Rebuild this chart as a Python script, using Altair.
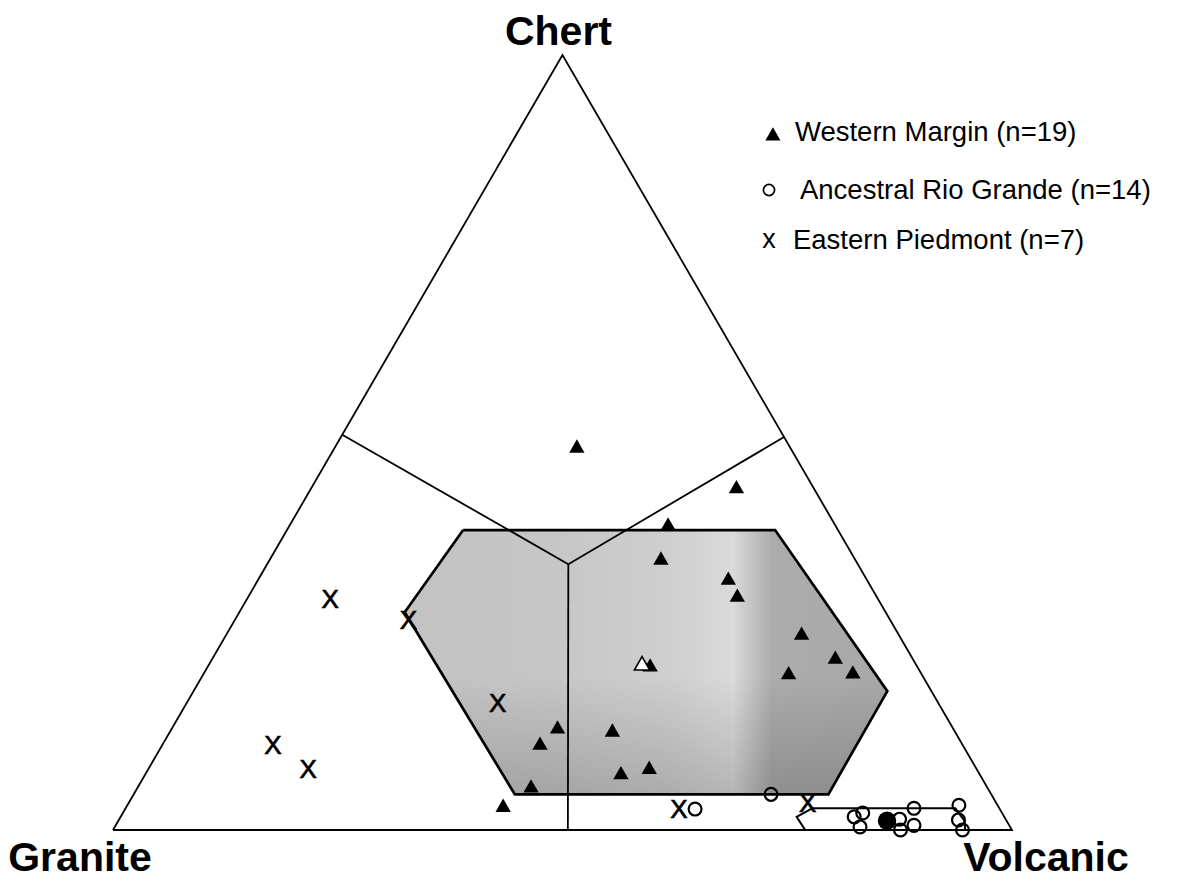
import altair as alt
import numpy as np
import pandas as pd

FONT = "Liberation Sans"

# ---------------- data: compositions in percent (Chert, Granite, Volcanic) ----------------
# Western Margin (triangles)
wm_chert = [49.5, 44.3, 39.5, 35.1, 32.5, 30.3, 25.4, 22.3, 20.3, 20.4, 21.3, 13.3, 11.2, 12.9, 7.4, 8.1, 5.7, 3.2]
wm_granite = [23.6, 8.5, 18.5, 21.5, 15.3, 15.4, 10.7, 8.5, 14.7, 7.5, 29.6, 43.9, 46.9, 38.0, 39.8, 36.3, 50.7, 55.0]
wm_volcanic = [26.8, 47.2, 42.0, 43.4, 52.2, 54.3, 63.9, 69.2, 65.0, 72.1, 49.1, 42.8, 41.9, 49.1, 52.8, 55.6, 43.7, 41.8]
wm_mean = [21.5, 30.4, 48.1]

# Ancestral Rio Grande (open circles)
arg_chert = [2.7, 4.6, 1.7, 2.2, 0.4, 1.4, 0.0, 2.8, 0.6, 3.2, 1.3, 0.0]
arg_granite = [33.9, 24.5, 16.7, 15.5, 16.7, 11.8, 12.4, 9.5, 10.6, 4.3, 5.3, 5.5]
arg_volcanic = [63.4, 70.9, 81.6, 82.3, 82.9, 86.8, 87.6, 87.7, 88.8, 92.5, 93.4, 94.5]
arg_mean = [1.2, 13.3, 85.5]

# Eastern Piedmont (x)
ep_chert = [29.9, 27.1, 16.4, 11.0, 8.0, 2.8, 3.5]
ep_granite = [60.9, 53.6, 49.0, 76.7, 74.3, 35.6, 21.0]
ep_volcanic = [9.2, 19.3, 34.6, 12.3, 17.7, 61.5, 75.6]

# Western Margin field (shaded hexagon), clockwise from top-left
wmf_chert = [38.7, 38.7, 17.9, 4.6, 4.6, 28.1]
wmf_granite = [41.7, 7.0, 4.9, 18.1, 53.0, 53.5]
wmf_volcanic = [19.6, 54.3, 77.1, 77.2, 42.4, 18.4]

# Ancestral Rio Grande field (small outline)
argf_chert = [2.8, 1.7, 0.0, 0.0, 1.2, 2.8]
argf_granite = [20.8, 23.1, 23.0, 5.2, 4.7, 4.9]
argf_volcanic = [76.3, 75.2, 77.0, 94.8, 94.2, 92.2]

# Provenance field boundaries
div_chert = [51.0, 34.3, 50.7]
div_granite = [49.0, 32.2, 0.0]
div_volcanic = [0.0, 33.5, 49.3]
stem_chert = [34.3, 0.0]
stem_granite = [32.2, 49.4]
stem_volcanic = [33.5, 50.6]

apex_names = ["Chert", "Granite", "Volcanic"]
legend_labels = ["Western Margin (n=19)", "Ancestral Rio Grande (n=14)", "Eastern Piedmont (n=7)"]


def to_xy(c, g, v):
    c = np.asarray(c, float)
    g = np.asarray(g, float)
    v = np.asarray(v, float)
    s = c + g + v
    c, v = c / s, v / s
    return v + c / 2.0, c


X_DOM = [-0.1168, 1.1847]
Y_DOM = [-0.0645, 1.0606]


def X(field="x"):
    return alt.X(field, type="quantitative", axis=None,
                 scale=alt.Scale(domain=X_DOM, nice=False, zero=False))


def Y(field="y"):
    return alt.Y(field, type="quantitative", axis=None,
                 scale=alt.Scale(domain=Y_DOM, nice=False, zero=False))


def pts(c, g, v):
    x, y = to_xy(c, g, v)
    return pd.DataFrame({"x": np.atleast_1d(x), "y": np.atleast_1d(y)})


def poly(c, g, v, close=True, grp="g"):
    x, y = to_xy(c, g, v)
    x, y = list(x), list(y)
    if close:
        x.append(x[0])
        y.append(y[0])
    return pd.DataFrame({"x": x, "y": y, "ord": range(len(x)), "grp": grp})


def line_layer(df, width=1.8):
    return alt.Chart(df).mark_line(color="black", strokeWidth=width).encode(
        x=X(), y=Y(), detail="grp:N", order="ord:Q")


# ---------------- shaded field ----------------
hx, hy = to_xy(wmf_chert, wmf_granite, wmf_volcanic)
n = len(hx)
i0, i1 = int(np.argmin(hx)), int(np.argmax(hx))
chain_a, i = [i0], i0
while i != i1:
    i = (i + 1) % n
    chain_a.append(i)
chain_b, i = [i0], i0
while i != i1:
    i = (i - 1) % n
    chain_b.append(i)
grid = np.unique(hx)
ya = np.interp(grid, hx[chain_a], hy[chain_a])
yb = np.interp(grid, hx[chain_b], hy[chain_b])
field_df = pd.DataFrame({"x": grid, "y": np.maximum(ya, yb), "y2": np.minimum(ya, yb)})

fill_h = alt.Gradient(
    gradient="linear", x1=0, x2=1, y1=0, y2=0,
    stops=[
        alt.GradientStop(offset=0.0, color="#c2c2c2"),
        alt.GradientStop(offset=0.3, color="#c6c6c6"),
        alt.GradientStop(offset=0.55, color="#cfcfcf"),
        alt.GradientStop(offset=0.68, color="#dadada"),
        alt.GradientStop(offset=0.76, color="#acacac"),
        alt.GradientStop(offset=1.0, color="#a8a8a8"),
    ])
fill_v = alt.Gradient(
    gradient="linear", x1=0, x2=0, y1=0, y2=1,
    stops=[
        alt.GradientStop(offset=0.0, color="rgba(0,0,0,0)"),
        alt.GradientStop(offset=0.55, color="rgba(0,0,0,0)"),
        alt.GradientStop(offset=1.0, color="rgba(0,0,0,0.17)"),
    ])

field_fill = alt.Chart(field_df).mark_area(color=fill_h).encode(x=X(), y=Y(), y2="y2")
field_shade = alt.Chart(field_df).mark_area(color=fill_v).encode(x=X(), y=Y(), y2="y2")

# ---------------- outlines ----------------
outline = line_layer(poly([0, 100, 0], [100, 0, 0], [0, 0, 100], grp="tri"), 1.8)
divs = line_layer(pd.concat([
    poly(div_chert, div_granite, div_volcanic, close=False, grp="d1"),
    poly(stem_chert, stem_granite, stem_volcanic, close=False, grp="d2"),
]), 1.8)
field_line = line_layer(poly(wmf_chert, wmf_granite, wmf_volcanic, grp="wmf"), 2.7)
arg_line = line_layer(poly(argf_chert, argf_granite, argf_volcanic, grp="argf"), 2.0)

# ---------------- symbols ----------------
TRI = "M0,-0.87L1,0.87L-1,0.87Z"

wm_pts = alt.Chart(pts(wm_chert, wm_granite, wm_volcanic)).mark_point(
    shape=TRI, size=235, filled=True, color="black", opacity=1).encode(x=X(), y=Y())
wm_mean_pt = alt.Chart(pts(*wm_mean)).mark_point(
    shape=TRI, size=235, filled=True, fill="white", stroke="black", strokeWidth=1.6,
    opacity=1).encode(x=X(), y=Y())
arg_pts = alt.Chart(pts(arg_chert, arg_granite, arg_volcanic)).mark_point(
    shape="circle", size=165, filled=False, color="black", strokeWidth=2.2, opacity=1
).encode(x=X(), y=Y())
arg_mean_pt = alt.Chart(pts(*arg_mean)).mark_point(
    shape="circle", size=340, filled=True, color="black", opacity=1).encode(x=X(), y=Y())
ep_pts = alt.Chart(pts(ep_chert, ep_granite, ep_volcanic)).mark_text(
    text="X", font=FONT, fontSize=26, color="black", stroke="black", strokeWidth=0.7,
    baseline="middle", align="center", dy=1.5
).encode(x=X(), y=Y())

# ---------------- apex labels ----------------
apex_off = {"Chert": (-4, -10), "Granite": (-33, 41), "Volcanic": (34, 41)}
apex_comp = {"Chert": (100, 0, 0), "Granite": (0, 100, 0), "Volcanic": (0, 0, 100)}
apex_layers = []
for name in apex_names:
    d = pts(*apex_comp[name])
    d["label"] = name
    dx, dy = apex_off[name]
    apex_layers.append(alt.Chart(d).mark_text(
        font=FONT, fontSize=41, fontWeight="bold", color="black", align="center",
        baseline="alphabetic", dx=dx, dy=dy).encode(x=X(), y=Y(), text="label:N"))

# ---------------- legend ----------------
leg = pd.DataFrame({
    "label": legend_labels,
    "sx": [0.7341, 0.7297, 0.7297],
    "sy": [0.8981, 0.8258, 0.7587],
    "tx": [0.7586, 0.7642, 0.7564],
    "ty": [0.9006, 0.8258, 0.7613],
})
leg_text = alt.Chart(leg).mark_text(
    font=FONT, fontSize=27.5, color="black", align="left", baseline="middle", dy=1
).encode(x=X("tx"), y=Y("ty"), text="label:N")
leg_tri = alt.Chart(leg.iloc[[0]]).mark_point(
    shape=TRI, size=230, filled=True, color="black", opacity=1).encode(x=X("sx"), y=Y("sy"))
leg_circ = alt.Chart(leg.iloc[[1]]).mark_point(
    shape="circle", size=125, filled=False, color="black", strokeWidth=1.7, opacity=1
).encode(x=X("sx"), y=Y("sy"))
leg_x = alt.Chart(leg.iloc[[2]]).mark_text(
    text="x", font=FONT, fontSize=27, color="black", align="center", baseline="middle", dy=-2
).encode(x=X("sx"), y=Y("sy"))

chart = alt.layer(
    field_fill, field_shade, field_line, outline, divs, arg_line,
    wm_pts, wm_mean_pt, arg_pts, arg_mean_pt, ep_pts,
    *apex_layers, leg_text, leg_tri, leg_circ, leg_x,
).properties(
    width=1170, height=872, padding=0,
    autosize=alt.AutoSizeParams(type="none"),
    background="white",
).configure_view(stroke=None)

chart.save("out.html", embed_options={"renderer": "svg", "actions": False})
